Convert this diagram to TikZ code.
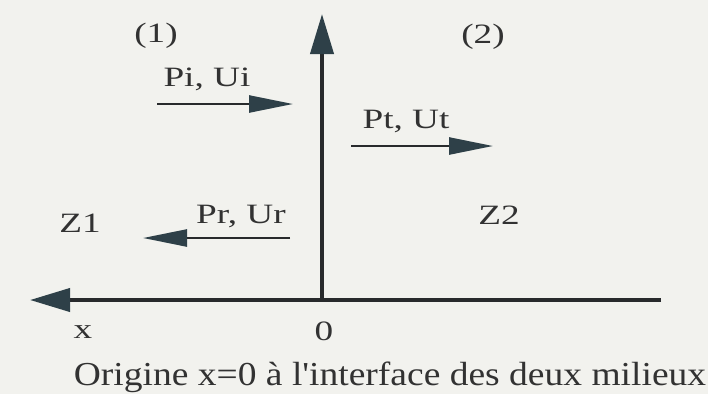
\documentclass[tikz,border=0pt]{standalone}
\usepackage{fontspec}
\setmainfont{Liberation Serif}
\newfontfamily\lblfont[FakeStretch=1.33]{Liberation Serif}
\newfontfamily\capfont[FakeStretch=1.12]{Liberation Serif}
\usetikzlibrary{arrows.meta}
\definecolor{bgcol}{RGB}{242,242,238}
\definecolor{linecol}{RGB}{40,42,44}
\definecolor{headcol}{RGB}{46,64,72}
\definecolor{txtcol}{RGB}{50,50,50}
\tikzset{
  lbl/.style={anchor=base, inner sep=0pt, text=txtcol, font=\lblfont\fontsize{28bp}{32bp}\selectfont},
  captxt/.style={anchor=base, inner sep=0pt, text=txtcol, font=\capfont\fontsize{33.5bp}{40bp}\selectfont},
  axisline/.style={draw=linecol, line width=4bp, -{Triangle[length=40bp,width=23bp,color=headcol]}},
  waveline/.style={draw=linecol, line width=2.5bp, -{Triangle[length=44bp,width=17bp,color=headcol]}}
}
\begin{document}
\begin{tikzpicture}[x=1bp,y=-1bp]
\useasboundingbox (0,0) rectangle (708,394);
\fill[bgcol] (0,0) rectangle (708,394);
% axes
\coordinate (O) at (322,300);
\coordinate (xend) at (661,300);
\coordinate (xtip) at (30,300);
\coordinate (ytip) at (322,14);
\draw[axisline] (xend) -- (xtip);
\draw[axisline] (O) -- (ytip);
% wave arrows
\coordinate (iS) at (157,104);
\coordinate (iE) at (293,104);
\coordinate (tS) at (351,146);
\coordinate (tE) at (493,146);
\coordinate (rS) at (290,238);
\coordinate (rE) at (143,238);
\draw[waveline] (iS) -- (iE);
\draw[waveline] (tS) -- (tE);
\draw[waveline] (rS) -- (rE);
% labels
\node[lbl] (m1) at (156,42) {(1)};
\node[lbl] (m2) at (483,43) {(2)};
\node[lbl] (pi) at (207,86) {Pi, Ui};
\node[lbl] (pt) at (406,128) {Pt, Ut};
\node[lbl] (pr) at (241,223) {Pr, Ur};
\node[lbl] (z1) at (80,232) {Z1};
\node[lbl] (z2) at (499,224) {Z2};
\node[lbl] (xl) at (83,338) {x};
\node[lbl] (zero) at (324,340) {0};
\node[captxt] (cap) at (390,385) {Origine x=0 à l'interface des deux milieux};
\end{tikzpicture}
\end{document}
